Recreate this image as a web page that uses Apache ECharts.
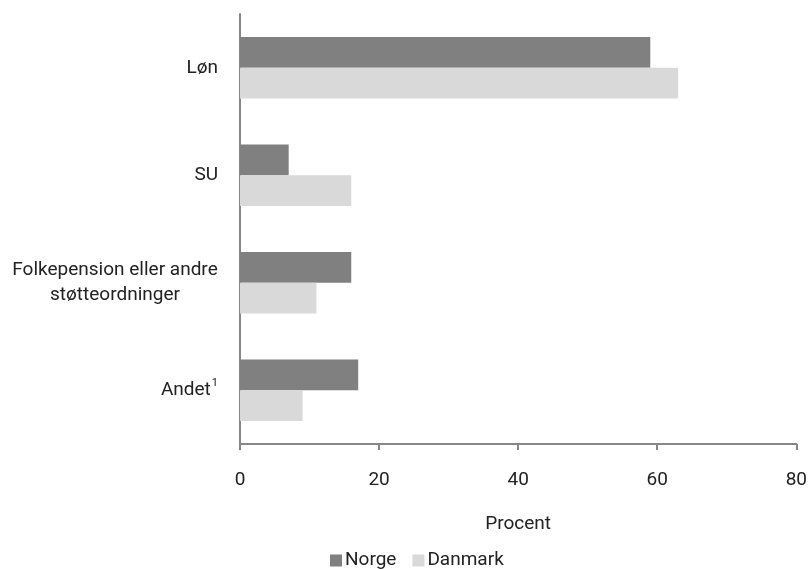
<!DOCTYPE html>
<html>
<head>
<meta charset="utf-8">
<script src="https://cdn.jsdelivr.net/npm/echarts@6/dist/echarts.min.js"></script>
<style>html,body{margin:0;padding:0;background:#fff}#c{width:810px;height:569px}</style>
</head>
<body>
<div id="c"></div>
<script>
const categories = ['Løn', 'SU', 'Folkepension eller andre\nstøtteordninger', 'Andet'];
const norge = [59, 7, 16, 17];
const danmark = [63, 16, 11, 9];
const xTicks = [0, 20, 40, 60, 80];
const seriesNames = ['Norge', 'Danmark'];

const FONT = 'Roboto';
const TXT = '#222222';
const chart = echarts.init(document.getElementById('c'));
chart.setOption({
  animation: false,
  textStyle: { fontFamily: FONT },
  grid: { left: 240, right: 13, top: 14, bottom: 125, containLabel: false },
  legend: {
    data: seriesNames,
    left: 325, top: 546,
    itemWidth: 12, itemHeight: 12, itemGap: 16,
    icon: 'rect',
    textStyle: { fontFamily: FONT, fontSize: 19, color: TXT, padding: [0, 0, 0, -2] }
  },
  xAxis: {
    type: 'value', min: xTicks[0], max: xTicks[xTicks.length - 1], interval: 20,
    name: 'Procent', nameLocation: 'middle', nameGap: 71,
    nameTextStyle: { fontFamily: FONT, fontSize: 19, color: TXT },
    axisLine: { show: true, lineStyle: { color: '#868686', width: 2 } },
    axisTick: { show: true, length: 6, lineStyle: { color: '#868686', width: 2 } },
    axisLabel: { fontFamily: FONT, fontSize: 19, color: TXT, margin: 27 },
    splitLine: { show: false }
  },
  yAxis: {
    type: 'category', data: categories, inverse: true,
    axisLine: { show: true, lineStyle: { color: '#868686', width: 2 } },
    axisTick: { show: false },
    axisLabel: {
      fontFamily: FONT, fontSize: 19, color: TXT, margin: 22, lineHeight: 25,
      formatter: function (v) {
        if (v === 'Andet') return 'Andet{sup|1}';
        if (v.indexOf('\n') >= 0) return v.split('\n').map(s => '{c|' + s + '}').join('\n');
        return v;
      },
      rich: {
        sup: { fontSize: 11, verticalAlign: 'top', padding: [0, 0, 8, 1], color: TXT, fontFamily: FONT },
        c: { width: 206, align: 'center', fontSize: 19, color: TXT, fontFamily: FONT, lineHeight: 25 }
      }
    }
  },
  series: [
    { name: seriesNames[0], type: 'bar', data: norge, barCategoryGap: '43%', barGap: '0%', itemStyle: { color: '#808080' } },
    { name: seriesNames[1], type: 'bar', data: danmark, barCategoryGap: '43%', barGap: '0%', itemStyle: { color: '#d9d9d9' } }
  ]
});
</script>
</body>
</html>
